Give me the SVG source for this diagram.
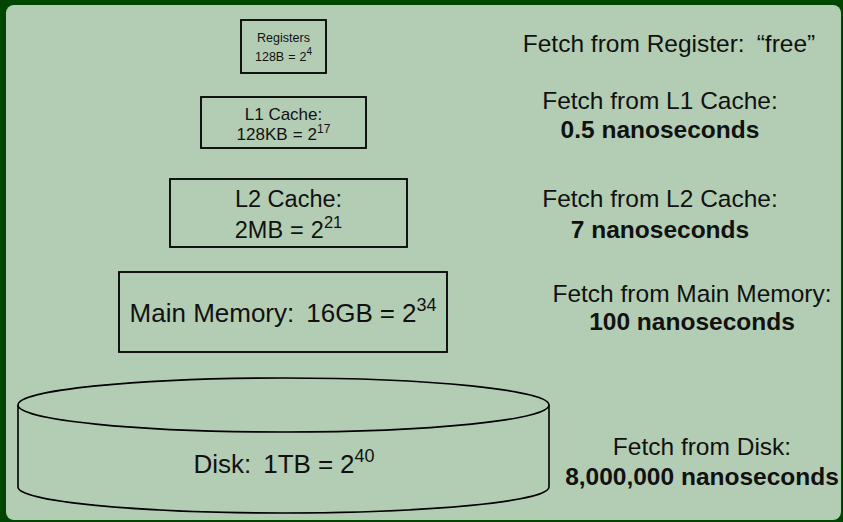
<svg xmlns="http://www.w3.org/2000/svg" width="843" height="522" viewBox="0 0 843 522">
  <style>
    .box { fill: none; stroke: #000; stroke-width: 1.8; }
    .cyl { fill: none; stroke: #000; stroke-width: 1.6; }
    text { font-family: "Liberation Sans", Arial, sans-serif; fill: #111; text-anchor: middle; }
    .note { font-size: 24.5px; }
    .bold { font-weight: bold; }
  </style>
  <!-- block frame -->
  <rect x="0" y="0" width="843" height="522" fill="#004500"/>
  <rect x="6" y="5" width="835" height="515" rx="8" fill="#b3cdb4"/>

  <g id="registers">
    <rect class="box" x="241" y="20" width="85" height="53"/>
    <text x="283.5" y="41.5" font-size="12.5">Registers</text>
    <text x="283.5" y="60.5" font-size="12.5">128B<tspan dx="4">=</tspan><tspan dx="4">2</tspan><tspan font-size="10" dy="-6">4</tspan></text>
  </g>

  <g id="l1">
    <rect class="box" x="201" y="97" width="165" height="51"/>
    <text x="283.5" y="120" font-size="17">L1 Cache:</text>
    <text x="283.5" y="140" font-size="17">128KB<tspan dx="5">=</tspan><tspan dx="5">2</tspan><tspan font-size="12" dy="-7">17</tspan></text>
  </g>

  <g id="l2">
    <rect class="box" x="170" y="179" width="237" height="68"/>
    <text x="288.5" y="207" font-size="23.5">L2 Cache:</text>
    <text x="288.5" y="238" font-size="23.5">2MB<tspan dx="7">=</tspan><tspan dx="7">2</tspan><tspan font-size="16.5" dy="-10">21</tspan></text>
  </g>

  <g id="main-memory">
    <rect class="box" x="119" y="272" width="328" height="80"/>
    <text x="283" y="322" font-size="26">Main Memory:<tspan dx="12">16GB</tspan><tspan dx="7">=</tspan><tspan dx="7">2</tspan><tspan font-size="18" dy="-11">34</tspan></text>
  </g>

  <g id="disk">
    <path class="cyl" d="M18,405 A265.5,27 0 0 1 549,405 A265.5,27 0 0 1 18,405 Z"/>
    <path class="cyl" d="M18,405 L18,487 A265.5,26 0 0 0 549,487 L549,405"/>
    <text x="284" y="473" font-size="26">Disk:<tspan dx="12">1TB</tspan><tspan dx="7">=</tspan><tspan dx="7">2</tspan><tspan font-size="18" dy="-11">40</tspan></text>
  </g>

  <g id="costs">
    <text class="note" x="669" y="52">Fetch from Register:<tspan dx="12">“free”</tspan></text>
    <text class="note" x="660" y="109">Fetch from L1 Cache:</text>
    <text class="note bold" x="660" y="138">0.5 nanoseconds</text>
    <text class="note" x="660" y="207">Fetch from L2 Cache:</text>
    <text class="note bold" x="660" y="238">7 nanoseconds</text>
    <text class="note" x="692" y="302">Fetch from Main Memory:</text>
    <text class="note bold" x="692" y="330">100 nanoseconds</text>
    <text class="note" x="702" y="455">Fetch from Disk:</text>
    <text class="note bold" x="702" y="485">8,000,000 nanoseconds</text>
  </g>
</svg>
